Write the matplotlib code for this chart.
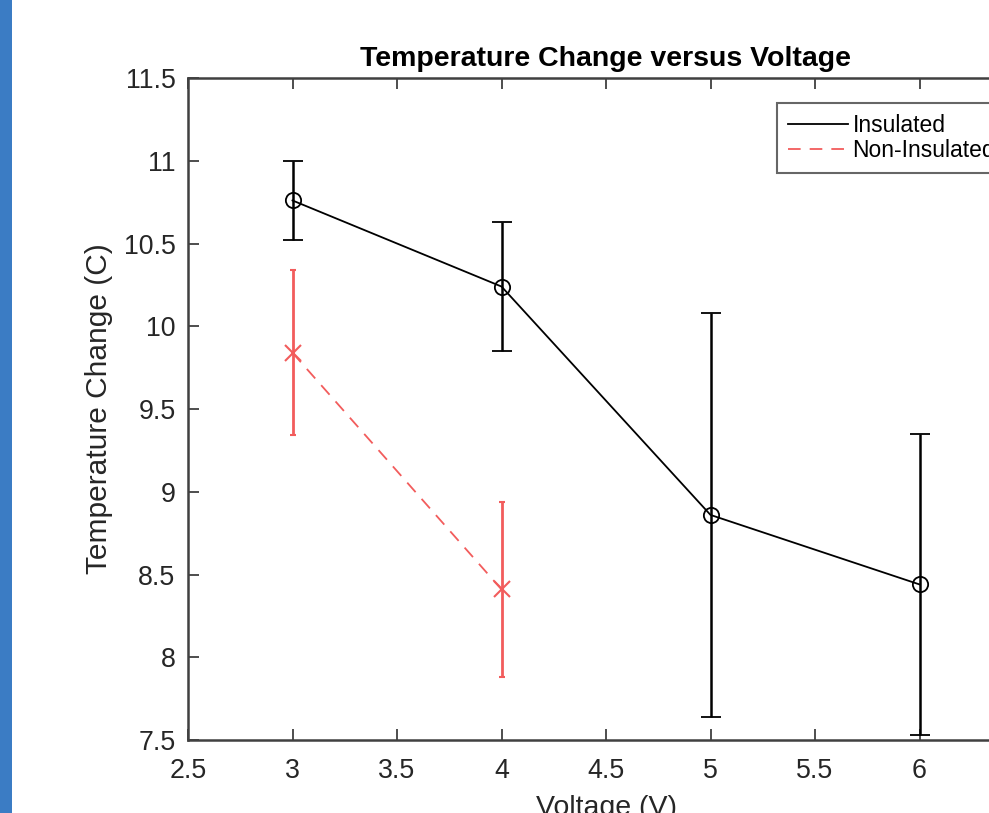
import matplotlib
matplotlib.use("Agg")
import matplotlib.pyplot as plt
from matplotlib.patches import Rectangle

# data
volts_ins = [3, 4, 5, 6]
temp_ins = [10.76, 10.24, 8.86, 8.44]
err_ins = [0.24, 0.39, 1.22, 0.91]

volts_non = [3, 4]
temp_non = [9.84, 8.41]
err_non = [0.50, 0.53]

xticks = [2.5, 3, 3.5, 4, 4.5, 5, 5.5, 6]
yticks = [7.5, 8, 8.5, 9, 9.5, 10, 10.5, 11, 11.5]

plt.rcParams['font.family'] = ['Liberation Sans', 'DejaVu Sans']

W, H = 989, 813
fig = plt.figure(figsize=(W / 100, H / 100), dpi=100)
fig.patch.set_facecolor('white')

# blue strip along the left edge of the screenshot
fig.patches.append(Rectangle((0, 0), 12 / W, 1, transform=fig.transFigure,
                             facecolor='#3b7cc4', edgecolor='none'))

# axes box runs past the right edge (the screenshot is cropped)
left, top, bottom = 188, 78, 740
right = 188 + 4 * 209
ax = fig.add_axes([left / W, 1 - bottom / H, (right - left) / W, (bottom - top) / H])

axcol = '#404040'
red = '#f25c5c'
ax.errorbar(volts_ins, temp_ins, yerr=err_ins, color='black', lw=1.3,
            marker='o', ms=11, mfc='none', mew=1.3, capsize=7, capthick=1.5,
            elinewidth=1.8, label='Insulated')
ax.errorbar(volts_non, temp_non, yerr=err_non, color=red, lw=1.3,
            ls=(0, (7, 5)), marker='x', ms=11, mew=1.5, capsize=2,
            elinewidth=2.0, label='Non-Insulated')

ax.set_xlim(2.5, 6.5)
ax.set_ylim(7.5, 11.5)
ax.set_xticks(xticks + [6.5])
ax.set_yticks(yticks)
ax.set_xticklabels([f'{v:g}' for v in xticks] + [''])
ax.set_yticklabels([f'{v:g}' for v in yticks])
ax.tick_params(direction='in', length=8, width=1.3, colors=axcol,
               labelsize=19.3, labelcolor='#262626', top=True, right=True)
ax.tick_params(axis='y', pad=9)
ax.tick_params(axis='x', pad=13)
for s in ax.spines.values():
    s.set_color(axcol)
    s.set_linewidth(1.8)

ax.set_title('Temperature Change versus Voltage', fontsize=20.5, fontweight='bold',
             pad=9)
ax.set_xlabel('Voltage (V)', fontsize=20.5, color='#262626', labelpad=8)
ax.set_ylabel('Temperature Change (C)', fontsize=21.5, color='#262626', labelpad=8)

leg_handles = [plt.Line2D([], [], color='black', lw=1.3),
               plt.Line2D([], [], color=red, lw=1.3, ls=(0, (7, 5)))]
leg = ax.legend(leg_handles, ['Insulated', 'Non-Insulated'], loc='upper left',
                bbox_to_anchor=(777 / W, 1 - 103 / H), bbox_transform=fig.transFigure,
                fontsize=16.5, frameon=True, fancybox=False, borderpad=0.5,
                labelspacing=0.05, handlelength=2.6, handletextpad=0.2,
                borderaxespad=0)
leg.get_frame().set_edgecolor(axcol)
leg.get_frame().set_linewidth(1.5)

fig.savefig('out.png', dpi=100)
